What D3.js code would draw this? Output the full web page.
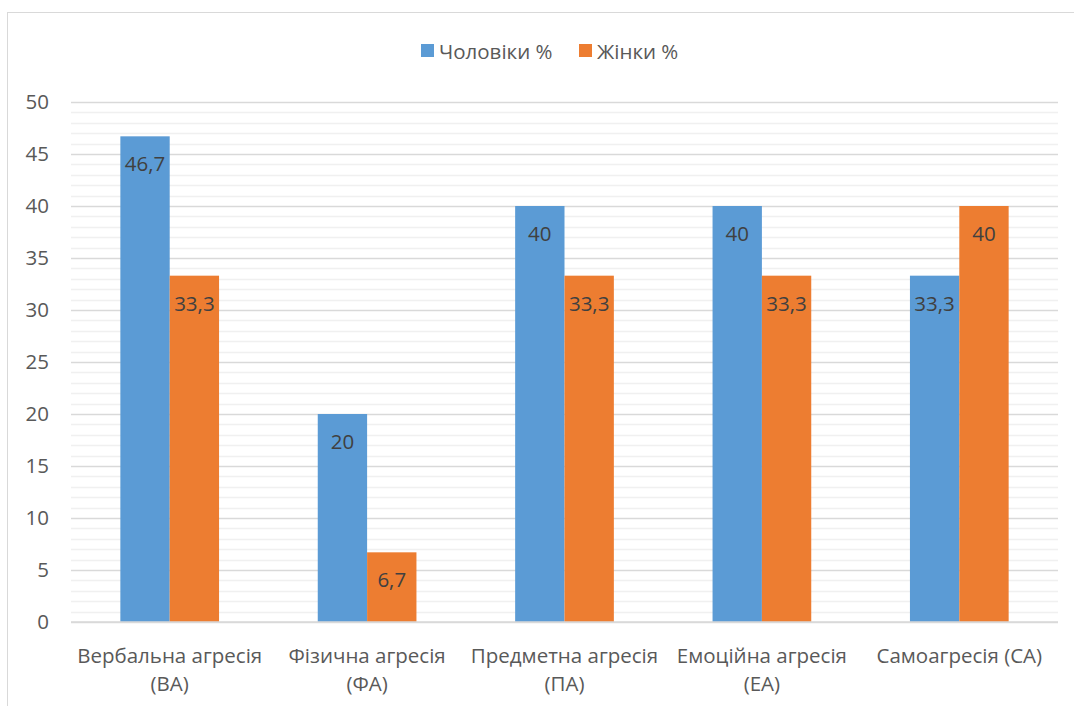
<!DOCTYPE html>
<html>
<head>
<meta charset="utf-8">
<script src="https://cdn.jsdelivr.net/npm/d3@7"></script>
<style>
  html, body { margin: 0; padding: 0; background: #fff; }
  svg { display: block; }
  text { font-family: "Open Sans", "Noto Sans", sans-serif; }
</style>
</head>
<body>
<svg id="chart" width="1074" height="706"></svg>
<script>
// Aggression types and the share of men / women showing each
const categories = [
  ["Вербальна агресія", "(ВА)"],
  ["Фізична агресія", "(ФА)"],
  ["Предметна агресія", "(ПА)"],
  ["Емоційна агресія", "(ЕА)"],
  ["Самоагресія (СА)"]
];
const seriesNames = ["Чоловіки %", "Жінки %"];
const men = [46.7, 20, 40, 40, 33.3];
const women = [33.3, 6.7, 33.3, 33.3, 40];
const yTicks = [0, 5, 10, 15, 20, 25, 30, 35, 40, 45, 50];
const colors = ["#5b9bd5", "#ed7d31"];

const svg = d3.select("#chart");
const W = 1074, H = 706;
const plot = { left: 71, right: 1058, top: 102, bottom: 622 };
const fontSize = "20.5px";

// outer chart frame
svg.append("rect")
  .attr("x", 7.5).attr("y", 12.5)
  .attr("width", W + 10).attr("height", H + 10)
  .attr("fill", "#fff").attr("stroke", "#d9d9d9").attr("stroke-width", 1);

const y = d3.scaleLinear().domain([0, 50]).range([plot.bottom, plot.top]);
const x0 = d3.scaleBand().domain(d3.range(categories.length))
  .range([plot.left, plot.right]).paddingInner(0.5).paddingOuter(0.25);
const x1 = d3.scaleBand().domain([0, 1]).range([0, x0.bandwidth()]);

// minor gridlines every unit
const minor = d3.range(0, 51).filter(v => v % 5 !== 0);
svg.append("g").selectAll("line").data(minor).join("line")
  .attr("x1", plot.left).attr("x2", plot.right)
  .attr("y1", d => Math.round(y(d)) + 0.5).attr("y2", d => Math.round(y(d)) + 0.5)
  .attr("stroke", "#f0f0f0").attr("stroke-width", 1.5);

// major gridlines + y axis labels
const yAxis = d3.axisLeft(y).tickValues(yTicks).tickSize(-(plot.right - plot.left)).tickPadding(22);
const gy = svg.append("g").attr("transform", `translate(${plot.left},0)`).call(yAxis);
gy.select(".domain").remove();
gy.selectAll(".tick line").attr("stroke", "#d9d9d9").attr("stroke-width", 1.5);
gy.selectAll(".tick text").attr("fill", "#595959").style("font-size", fontSize)
  .style("font-family", "'Open Sans', sans-serif");

// bars
const data = categories.map((c, i) => [men[i], women[i]]);
const groups = svg.append("g").selectAll("g").data(data).join("g")
  .attr("transform", (d, i) => `translate(${x0(i)},0)`);

groups.selectAll("rect").data(d => d).join("rect")
  .attr("x", (d, j) => x1(j)).attr("width", x1.bandwidth())
  .attr("y", d => y(d)).attr("height", d => y(0) - y(d))
  .attr("fill", (d, j) => colors[j]);

// value labels inside the bar ends
const fmt = v => String(v).replace(".", ",");
groups.selectAll("text").data(d => d).join("text")
  .attr("x", (d, j) => x1(j) + x1.bandwidth() / 2)
  .attr("y", d => y(d) + 27)
  .attr("text-anchor", "middle").attr("dominant-baseline", "central")
  .attr("fill", "#404040").style("font-size", fontSize)
  .text(d => fmt(d));

// baseline
svg.append("line")
  .attr("x1", plot.left).attr("x2", plot.right)
  .attr("y1", y(0)).attr("y2", y(0))
  .attr("stroke", "#d9d9d9").attr("stroke-width", 1.5);

// category labels
const cat = svg.append("g").selectAll("text").data(categories).join("text")
  .attr("text-anchor", "middle").attr("fill", "#595959").style("font-size", fontSize)
  .attr("transform", (d, i) => `translate(${x0(i) + x0.bandwidth() / 2},0)`);
cat.selectAll("tspan").data(d => d).join("tspan")
  .attr("x", 0).attr("y", (d, k) => 663 + k * 28)
  .text(d => d);

// legend
const legend = svg.append("g");
const legendX = [421, 579];
seriesNames.forEach((name, j) => {
  legend.append("rect").attr("x", legendX[j]).attr("y", 44)
    .attr("width", 13).attr("height", 13).attr("fill", colors[j]);
  legend.append("text").attr("x", legendX[j] + 18).attr("y", 51)
    .attr("dominant-baseline", "central").attr("fill", "#595959")
    .style("font-size", fontSize).text(name);
});
</script>
</body>
</html>
